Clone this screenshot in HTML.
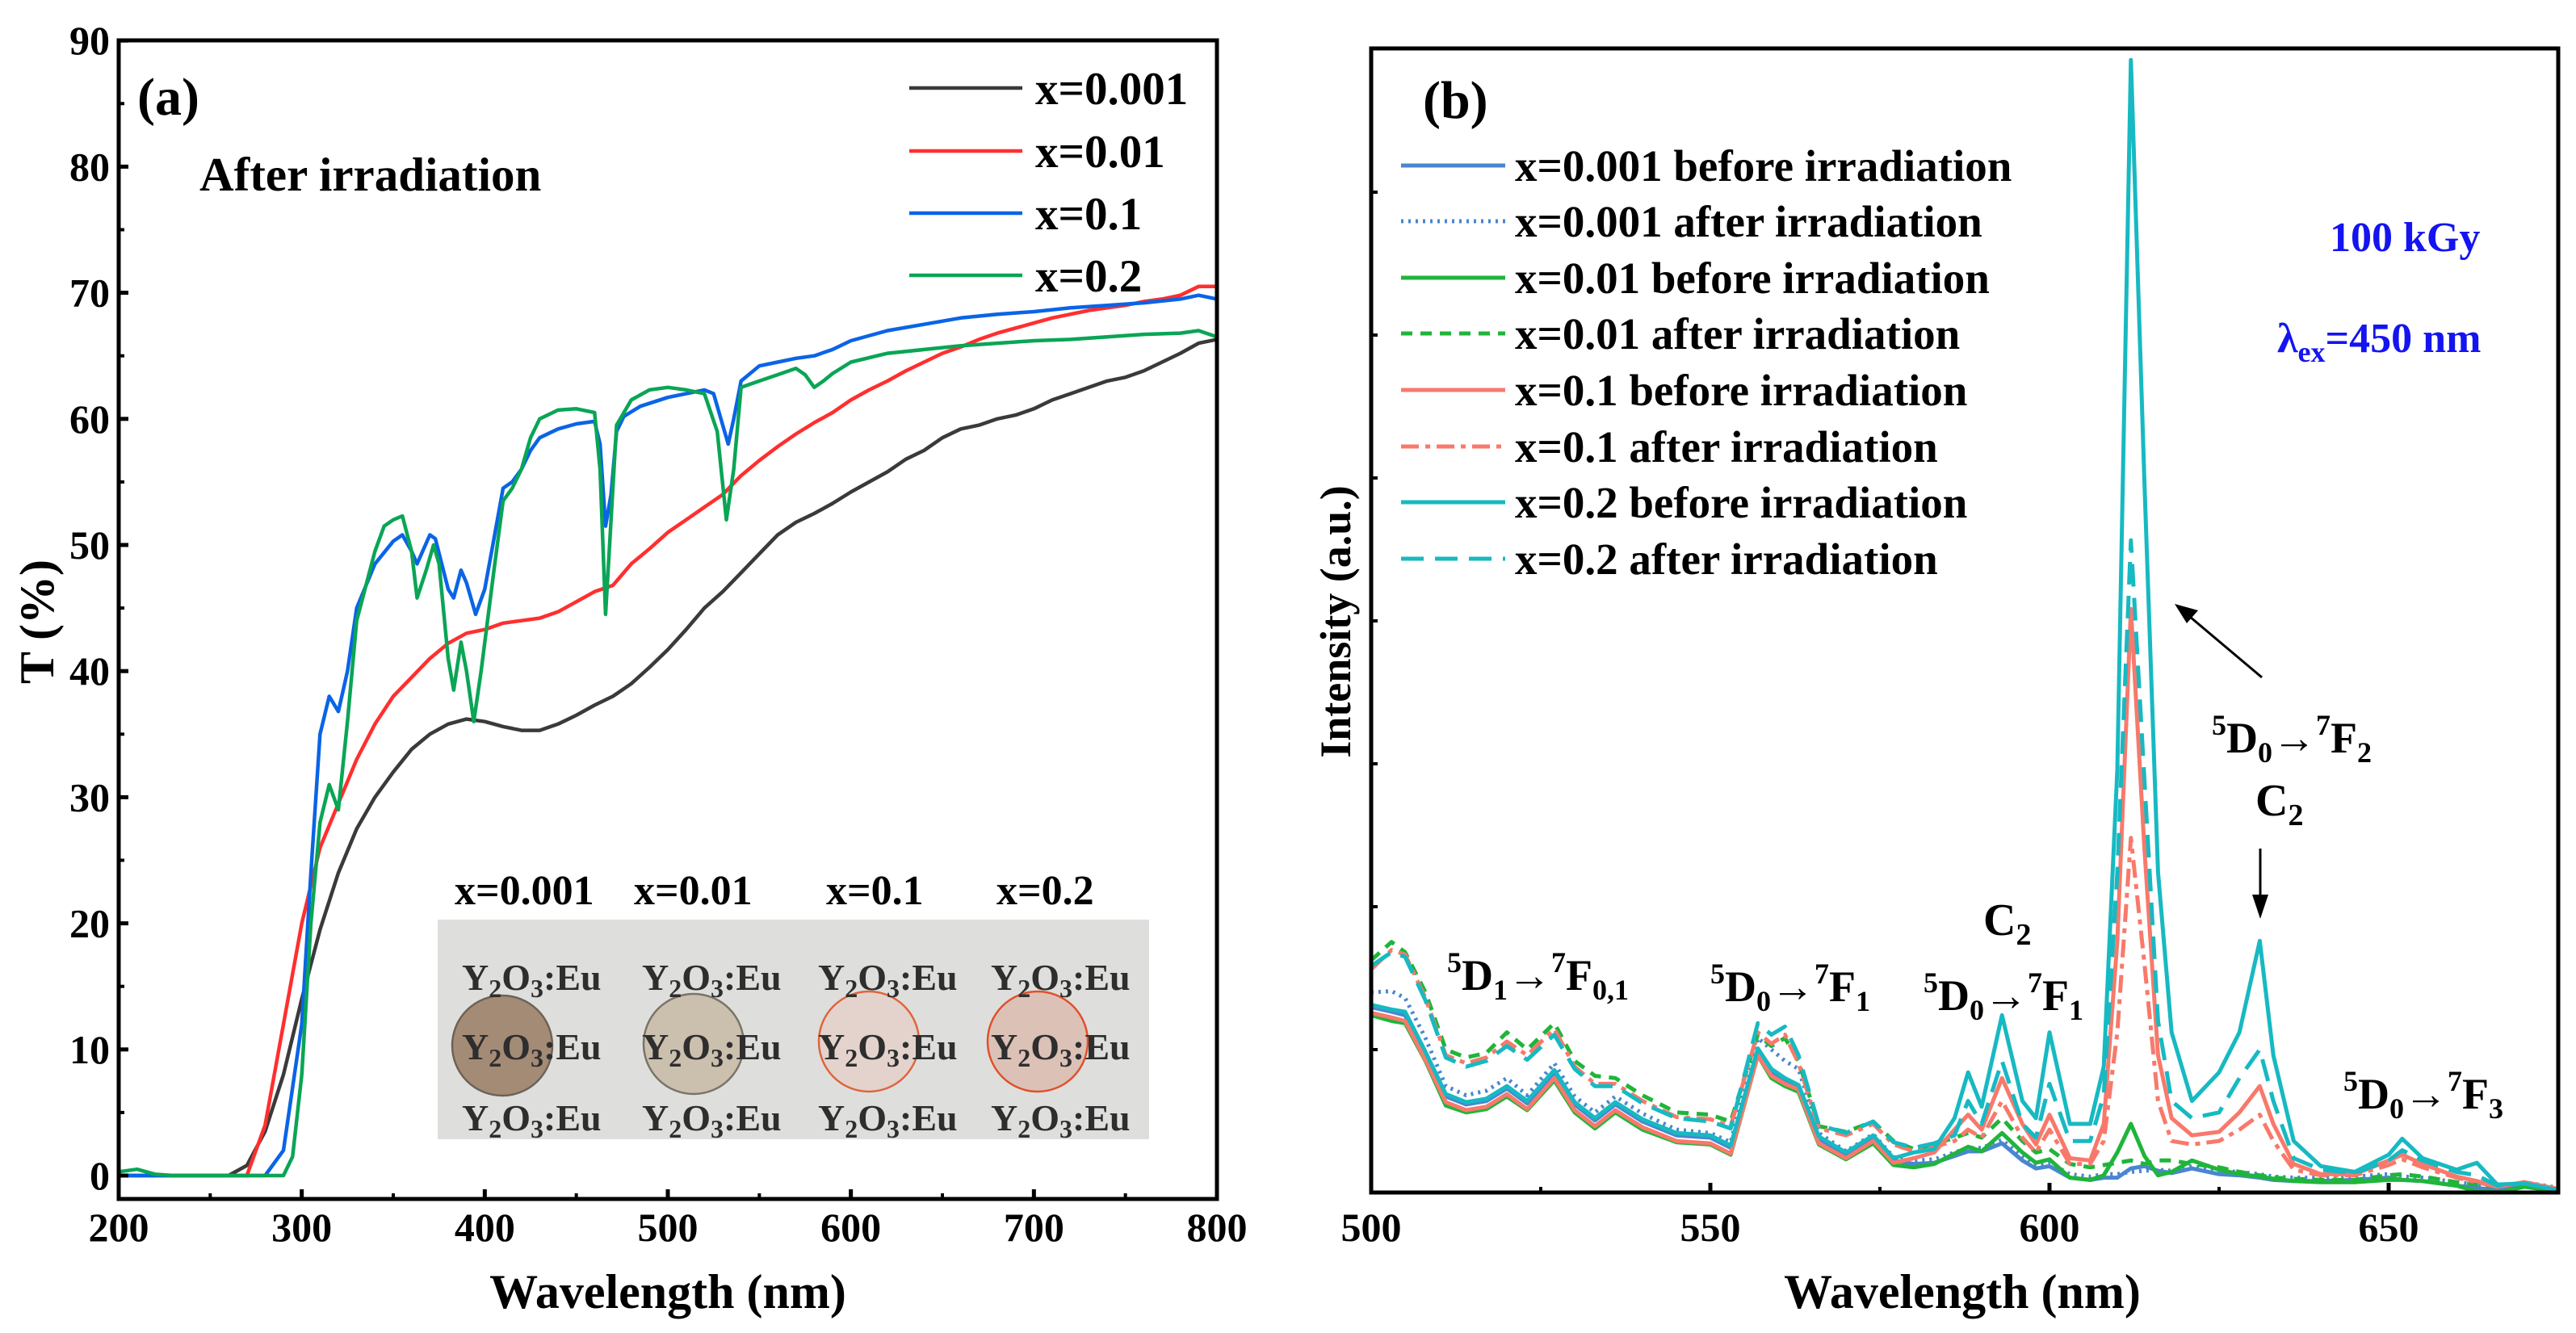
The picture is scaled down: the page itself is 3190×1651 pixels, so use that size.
<!DOCTYPE html>
<html><head><meta charset="utf-8">
<style>
html,body{margin:0;padding:0;background:#fff;}
svg{display:block;font-family:"Liberation Serif",serif;font-weight:bold;}
svg text{font-family:"Liberation Serif",serif;}
</style></head>
<body>
<svg id="fig" width="3190" height="1651" viewBox="0 0 3190 1651" xmlns="http://www.w3.org/2000/svg" font-family="Liberation Serif, serif">
<rect width="3190" height="1651" fill="#fff"/>
<g id="pa"></g>
<g id="pb"></g>
</svg>
<script>
// ---------- Panel (a) data ----------
const aBlackX=[200,260,270,280,290,300,310,320,330,340,350,360,370,380,390,400,410,420,430,440,450,460,470,480,490,500,510,520,530,540,550,560,570,580,590,600,610,620,630,640,650,660,670,680,690,700,710,720,730,740,750,760,770,780,790,800];
const aBlackY=[0,0,0.8,3.5,8,14,19.5,24,27.5,30,32,33.8,35,35.8,36.2,36,35.6,35.3,35.3,35.8,36.5,37.3,38,39,40.3,41.7,43.3,45,46.3,47.8,49.3,50.8,51.8,52.5,53.3,54.2,55,55.8,56.8,57.5,58.5,59.2,59.5,60,60.3,60.8,61.5,62,62.5,63,63.3,63.8,64.5,65.2,66,66.3];
const aRedX=[200,270,280,290,300,310,320,330,340,350,360,370,380,390,400,410,420,430,440,450,460,470,480,490,500,510,520,530,540,550,560,570,580,590,600,610,620,630,640,650,660,670,680,690,700,710,720,730,740,750,760,770,780,790,800];
const aRedY=[0,0,4,12,20,26,29.5,33,35.8,38,39.5,41,42.2,43,43.3,43.8,44,44.2,44.7,45.5,46.3,46.8,48.5,49.7,51,52,53,54,55.5,56.7,57.8,58.8,59.7,60.5,61.5,62.3,63,63.8,64.5,65.2,65.7,66.3,66.8,67.2,67.6,68,68.3,68.6,68.8,69,69.3,69.5,69.8,70.5,70.5];
const aBlueX=[200,280,290,300,305,310,315,320,325,330,340,350,355,360,363,370,373,380,383,387,390,395,400,405,410,415,420,425,430,440,450,460,463,466,469,472,476,485,500,510,520,525,530,533,536,540,550,560,570,580,590,600,620,640,660,680,700,720,740,760,780,790,800];
const aBlueY=[0,0,2,12,24,35,38,36.8,40,45,48.5,50.3,50.8,49.5,48.5,50.8,50.5,46.5,45.8,48,47,44.5,46.5,50.5,54.5,55,56,57.5,58.5,59.2,59.6,59.8,58,51.5,54,59,60.2,61,61.7,62,62.3,62,59.5,58,60,63,64.2,64.5,64.8,65,65.5,66.2,67,67.5,68,68.3,68.5,68.8,69,69.2,69.5,69.8,69.5];
const aGreenX=[200,210,220,230,290,295,300,305,310,315,320,325,330,340,345,350,355,360,363,368,372,375,380,383,387,390,394,398,405,410,415,420,425,430,440,450,460,463,466,469,472,480,490,500,510,520,527,532,536,540,550,560,570,575,580,585,590,600,620,640,660,680,700,720,740,760,780,790,800];
const aGreenY=[0.3,0.5,0.1,0,0,1.5,8,20,28,31,29,36,44,49.5,51.5,52,52.3,49.5,45.8,48,50,48.5,41,38.5,42.3,40,36,40,48,53.5,54.5,56,58.5,60,60.7,60.8,60.5,56,44.5,52,59.5,61.5,62.3,62.5,62.3,62,59,52,56,62.5,63,63.5,64,63.5,62.5,63,63.6,64.5,65.2,65.5,65.8,66,66.2,66.3,66.5,66.7,66.8,67,66.5];
const aTicksY=[0,10,20,30,40,50,60,70,80,90];
const aTicksX=[200,300,400,500,600,700,800];
const aLegend=["x=0.001","x=0.01","x=0.1","x=0.2"];

// ---------- Panel (b) data ----------
const bWl=[500,503,505,508,511,514,517,520,523,527,530,533,536,540,545,550,553,557,559,561,563,566,570,574,577,580,583,586,588,590,593,596,598,600,603,606,608,610,612,614,616,618,621,625,628,631,633,636,640,645,650,652,655,660,663,666,670,675];
const b001Before=[16.2,15.8,15.5,12.1,8.4,7.7,8.0,9.1,7.8,10.5,7.7,6.3,7.7,6.2,5.0,4.8,3.9,12.5,10.5,9.7,9.1,4.7,3.3,4.8,2.8,2.5,2.6,3.2,3.6,3.6,4.3,2.8,2.1,2.3,1.3,1.1,1.3,1.3,2.1,2.3,1.9,1.7,2.1,1.6,1.5,1.3,1.1,1.0,1.0,1.1,1.3,1.1,1.0,0.6,0.4,0.2,0.6,0.1];
const b001After=[17.5,17.6,17.0,13.5,9.3,8.5,8.9,10.0,8.5,11.3,8.4,7.0,8.4,6.9,5.5,5.2,4.4,13.5,12.5,11.5,10.8,5.2,3.6,5.1,3.1,2.8,2.9,3.5,3.9,3.9,4.6,3.1,2.4,2.6,1.6,1.4,1.6,1.6,1.8,1.9,2.0,1.9,2.3,1.9,1.8,1.6,1.4,1.3,1.3,1.4,1.6,1.4,1.3,0.9,0.7,0.5,0.9,0.4];
const b01Before=[15.5,15.0,14.8,11.5,7.6,7.0,7.3,8.4,7.2,9.8,7.0,5.6,7.0,5.5,4.4,4.2,3.3,12.0,10.0,9.3,8.8,4.2,2.9,4.3,2.4,2.2,2.5,3.4,4.0,3.6,5.2,3.5,2.6,2.9,1.3,1.1,1.5,3.5,6.0,3.2,1.5,1.8,2.8,2.0,1.6,1.4,1.2,1.0,0.9,0.9,1.1,1.1,1.0,0.6,0.1,0.0,0.5,0.1];
const b01After=[20.3,21.9,21.0,17.5,12.5,11.8,12.2,14.0,12.5,14.8,11.5,10.2,10.0,8.5,7.0,6.8,6.2,13.8,12.8,13.5,11.5,5.8,5.3,6.2,4.5,3.8,4.2,4.8,5.2,4.8,6.5,4.5,3.5,3.8,2.5,2.2,2.4,2.6,2.8,2.5,2.8,2.8,2.5,2.2,1.8,1.5,1.3,1.2,1.1,1.1,1.5,1.6,1.4,0.9,0.7,0.5,0.9,0.3];
const b1Before=[15.7,15.3,15.0,11.6,7.9,7.2,7.5,8.6,7.3,10.0,7.2,5.8,7.2,5.7,4.5,4.3,3.4,12.0,10.2,9.5,9.0,4.3,3.0,4.5,2.6,3.0,3.5,5.5,6.8,5.5,10.0,6.0,4.2,6.8,3.0,2.8,6.0,22,51,30,12,6.5,5.0,5.3,7.0,9.3,6.0,2.5,1.6,1.6,2.8,3.3,2.5,1.4,1.0,0.5,0.9,0.3];
const b1After=[19.5,21.2,20.8,17.0,12.0,11.3,11.8,13.2,12.0,14.3,11.0,9.5,9.5,8.0,6.6,6.4,5.8,14.0,13.0,13.8,11.3,5.6,5.0,6.0,4.2,3.6,4.0,4.5,5.5,4.8,8.0,4.8,3.5,5.5,2.5,2.5,4.5,14,31,20,8,4.5,4.2,4.5,5.5,6.8,4.5,2.0,1.5,1.5,2.4,2.9,2.2,1.3,0.9,0.5,0.9,0.3];
const b2Before=[16.4,16.0,15.8,12.3,8.6,7.9,8.2,9.3,8.0,10.7,7.9,6.5,7.9,6.4,5.2,5.0,4.1,12.6,10.8,10.0,9.4,4.9,3.5,5.0,3.0,3.5,3.8,6.5,10.5,7.5,15.5,8.0,6.5,14.0,6.0,6.0,11,37,99,62,28,14,8.0,10.5,14,22,12,4.5,2.3,1.8,3.3,4.7,3.0,2.0,2.6,0.7,0.8,0.2];
const b2After=[19.8,21.0,20.6,16.8,11.8,11.0,11.5,12.8,11.6,13.8,10.8,9.3,9.3,7.8,6.5,6.2,5.6,14.8,13.8,14.5,12.0,5.9,5.2,6.2,4.4,3.9,4.3,5.0,8.0,6.0,11.5,6.0,4.8,9.5,4.5,4.5,8.5,28,57,36,15,8,6.5,7.0,10,12.5,8.0,3.0,2.0,1.7,2.8,3.7,2.8,1.8,1.5,0.6,0.8,0.2];
const bTicksX=[500,550,600,650];
const bLegend=["x=0.001 before irradiation","x=0.001 after irradiation","x=0.01 before irradiation","x=0.01 after irradiation","x=0.1 before irradiation","x=0.1 after irradiation","x=0.2 before irradiation","x=0.2 after irradiation"];

const NS="http://www.w3.org/2000/svg";
const FF='"Liberation Serif", serif';
function mk(parent,tag,attrs,text){const e=document.createElementNS(NS,tag);for(const k in attrs)e.setAttribute(k,attrs[k]);if(tag==='text'){e.setAttribute('font-family',FF);if(!attrs['font-weight'])e.setAttribute('font-weight','bold');}if(text!==undefined)e.textContent=text;parent.appendChild(e);return e;}

// ---------- Panel A ----------
const pa=document.getElementById('pa');
const AL=147,AR=1507,AT=50,AB=1485;
const ax=v=>AL+(v-200)/600*(AR-AL);
const ay=v=>1456-v*15.62;
const aSeries=[[aBlackX,aBlackY,'#3a3a3a','series-x0001'],[aRedX,aRedY,'#ff2f2f','series-x001'],[aBlueX,aBlueY,'#0a64e6','series-x01'],[aGreenX,aGreenY,'#0aa555','series-x02']];
aSeries.forEach(s=>{
  const d=s[0].map((x,i)=>(i?'L':'M')+ax(x).toFixed(1)+' '+ay(s[1][i]).toFixed(1)).join(' ');
  const p=mk(pa,'path',{d:d,fill:'none',stroke:s[2],'stroke-width':4.5,'stroke-linejoin':'round'});
  
  
});
// inset photo
const ph=mk(pa,'g',{});


mk(ph,'rect',{x:542,y:1139,width:881,height:272,fill:'#dedfdd'});
const circ=[[622,1295,'#a48b76','#6d6258'],[859,1293,'#cbbfae','#7a7468'],[1076,1290,'#e3d3cc','#e0643c'],[1285,1290,'#dcc1b6','#e0502c']];
circ.forEach(c=>mk(ph,'circle',{cx:c[0],cy:c[1],r:62,fill:c[2],stroke:c[3],'stroke-width':2.5}));
const colX=[572,795,1013,1227],rowY=[1226,1312,1400];
colX.forEach((cx,i)=>rowY.forEach(ry=>{
  const t=mk(ph,'text',{x:cx,y:ry,'font-size':46,fill:'#2e2e2e'});
  t.innerHTML='Y<tspan font-size="32" dy="9">2</tspan><tspan dy="-9">O</tspan><tspan font-size="32" dy="9">3</tspan><tspan dy="-9">:Eu</tspan>';
}));
const photoLbl=["x=0.001","x=0.01","x=0.1","x=0.2"],photoLblX=[563,785,1023,1234];
photoLbl.forEach((l,i)=>mk(ph,'text',{x:photoLblX[i],y:1120,'font-size':52,fill:'#000'},l));
// frame & ticks
mk(pa,'rect',{x:AL,y:AT,width:AR-AL,height:AB-AT,fill:'none',stroke:'#000','stroke-width':5});
aTicksY.forEach(v=>{
  mk(pa,'line',{x1:AL,x2:AL+12,y1:ay(v),y2:ay(v),stroke:'#000','stroke-width':5});
  mk(pa,'line',{x1:AL,x2:AL+7,y1:ay(v+5),y2:ay(v+5),stroke:'#000','stroke-width':4});
  const t=mk(pa,'text',{x:136,y:ay(v)+17,'font-size':50,'text-anchor':'end'},String(v));
  
  
});
aTicksX.forEach(v=>{
  mk(pa,'line',{x1:ax(v),x2:ax(v),y1:AB,y2:AB-12,stroke:'#000','stroke-width':5});
  if(v<800)mk(pa,'line',{x1:ax(v+50),x2:ax(v+50),y1:AB,y2:AB-7,stroke:'#000','stroke-width':4});
  const t=mk(pa,'text',{x:ax(v),y:1537,'font-size':50,'text-anchor':'middle'},String(v));
  
  
});
let t;
t=mk(pa,'text',{x:827,y:1620,'font-size':60,'text-anchor':'middle'},'Wavelength (nm)');


t=mk(pa,'text',{x:0,y:0,'font-size':60,'text-anchor':'middle',transform:'translate(66,770) rotate(-90)'},'T (%)');


t=mk(pa,'text',{x:170,y:142,'font-size':66},'(a)');


t=mk(pa,'text',{x:247,y:236,'font-size':59},'After irradiation');


const aLegY=[109,187,264,341];
aLegend.forEach((l,i)=>{
  const g=mk(pa,'g',{});
  
  
  mk(g,'line',{x1:1126,x2:1266,y1:aLegY[i],y2:aLegY[i],stroke:aSeries[i][2],'stroke-width':4.5});
  mk(g,'text',{x:1282,y:aLegY[i]+20,'font-size':57},l);
});

// ---------- Panel B ----------
const pb=document.getElementById('pb');
const BL=1698,BR=3168,BT=60,BB=1477;
const bx=v=>BL+(v-500)*8.4;
const by=v=>BB-v*14.17;
const bSeries=[
 [b001Before,'#4a86d0','','series-x0001-before'],
 [b001After,'#4a86d0','3 6','series-x0001-after'],
 [b01Before,'#1fb53a','','series-x001-before'],
 [b01After,'#1fb53a','14 10','series-x001-after'],
 [b1Before,'#f8796b','','series-x01-before'],
 [b1After,'#f8796b','22 8 6 8','series-x01-after'],
 [b2Before,'#17b9c2','','series-x02-before'],
 [b2After,'#17b9c2','28 14','series-x02-after']];
bSeries.forEach(s=>{
  const d=bWl.map((x,i)=>(i?'L':'M')+bx(x).toFixed(1)+' '+by(s[0][i]).toFixed(1)).join(' ');
  const a={d:d,fill:'none',stroke:s[1],'stroke-width':5,'stroke-linejoin':'round'};
  if(s[2])a['stroke-dasharray']=s[2];
  const p=mk(pb,'path',a);
  
  
});
mk(pb,'rect',{x:BL,y:BT,width:BR-BL,height:BB-BT,fill:'none',stroke:'#000','stroke-width':5});
for(let k=1;k<8;k++){const yy=BB-k*177;mk(pb,'line',{x1:BL,x2:BL+8,y1:yy,y2:yy,stroke:'#000','stroke-width':4});}
bTicksX.forEach(v=>{
  mk(pb,'line',{x1:bx(v),x2:bx(v),y1:BB,y2:BB-12,stroke:'#000','stroke-width':5});
  mk(pb,'line',{x1:bx(v+25),x2:bx(v+25),y1:BB,y2:BB-7,stroke:'#000','stroke-width':4});
  const tt=mk(pb,'text',{x:bx(v),y:1537,'font-size':50,'text-anchor':'middle'},String(v));
  
  
});
t=mk(pb,'text',{x:2430,y:1620,'font-size':60,'text-anchor':'middle'},'Wavelength (nm)');


t=mk(pb,'text',{x:0,y:0,'font-size':54,'text-anchor':'middle',transform:'translate(1672,770) rotate(-90)'},'Intensity (a.u.)');


t=mk(pb,'text',{x:1762,y:146,'font-size':66},'(b)');


const bLegY=[205,274,344,413,483,553,622,692];
bLegend.forEach((l,i)=>{
  const g=mk(pb,'g',{});
  
  
  const a={x1:1735,x2:1864,y1:bLegY[i],y2:bLegY[i],stroke:bSeries[i][1],'stroke-width':5};
  if(bSeries[i][2])a['stroke-dasharray']=bSeries[i][2];
  mk(g,'line',a);
  mk(g,'text',{x:1876,y:bLegY[i]+19,'font-size':55},l);
});
t=mk(pb,'text',{x:2885,y:311,'font-size':52,fill:'#1414f0'},'100 kGy');


t=mk(pb,'text',{x:2820,y:436,'font-size':52,fill:'#1414f0'});
t.innerHTML='λ<tspan font-size="36" dy="12">ex</tspan><tspan dy="-12">=450 nm</tspan>';


function trans(x,y,parts,name){
  const tx=mk(pb,'text',{x:x,y:y,'font-size':54});
  tx.innerHTML='<tspan font-size="36" dy="-22">'+parts[0]+'</tspan><tspan dy="22">D</tspan><tspan font-size="36" dy="12">'+parts[1]+'</tspan><tspan dy="-12">→</tspan><tspan font-size="36" dy="-22">7</tspan><tspan dy="22">F</tspan><tspan font-size="36" dy="12">'+parts[2]+'</tspan>';
  
  
}
trans(1792,1226,['5','1','0,1'],'annotation-5d1-7f01');
trans(2118,1240,['5','0','1'],'annotation-5d0-7f1');
trans(2382,1251,['5','0','1'],'annotation-5d0-7f1-c2');
trans(2739,932,['5','0','2'],'annotation-5d0-7f2');
trans(2902,1373,['5','0','3'],'annotation-5d0-7f3');
t=mk(pb,'text',{x:2456,y:1158,'font-size':56});
t.innerHTML='C<tspan font-size="38" dy="12">2</tspan>';


t=mk(pb,'text',{x:2793,y:1010,'font-size':56});
t.innerHTML='C<tspan font-size="38" dy="12">2</tspan>';


const ar1=mk(pb,'g',{});


mk(ar1,'line',{x1:2799,y1:1051,x2:2799,y2:1112,stroke:'#000','stroke-width':3});
mk(ar1,'polygon',{points:'2789,1108 2809,1108 2799,1138',fill:'#000'});
const ar2=mk(pb,'g',{});


mk(ar2,'line',{x1:2801,y1:839,x2:2712,y2:764,stroke:'#000','stroke-width':3});
mk(ar2,'polygon',{points:'2693,748 2722,756 2708,772',fill:'#000'});
</script>
</body></html>
